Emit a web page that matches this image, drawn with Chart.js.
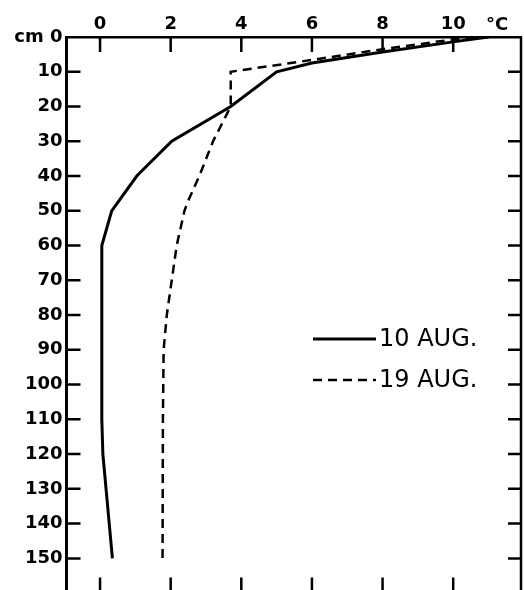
<!DOCTYPE html>
<html>
<head>
<meta charset="utf-8">
<title>Soil temperature profile</title>
<script src="https://cdn.jsdelivr.net/npm/chart.js@4.4.1/dist/chart.umd.min.js"></script>
<style>
  html, body { margin: 0; padding: 0; background: #fff; overflow: hidden; }
  canvas { display: block; }
</style>
</head>
<body>
<canvas id="profileChart" width="524" height="600"></canvas>
<script>
// Temperature (°C) against depth (cm) for the two dates
const depthsAug10 = [0, 1.4, 4.3, 7.5, 10, 20, 30, 40, 50, 60, 90, 110, 120, 130, 140, 150];
const tempsAug10  = [11.0, 10.0, 8.0, 6.0, 5.0, 3.7, 2.03, 1.04, 0.33, 0.05, 0.05, 0.05, 0.08, 0.17, 0.26, 0.35];

const depthsAug19 = [0, 0.7, 3.5, 6.6, 10, 20, 30, 40, 47, 50, 60, 70, 80, 90, 110, 150];
const tempsAug19  = [10.6, 10.0, 8.0, 6.0, 3.7, 3.7, 3.2, 2.81, 2.5, 2.39, 2.17, 2.03, 1.89, 1.8, 1.78, 1.77];

const seriesLabels = ['10 AUG.', '19 AUG.'];
const tempTicks = [0, 2, 4, 6, 8, 10];
const depthTicks = [0, 10, 20, 30, 40, 50, 60, 70, 80, 90, 100, 110, 120, 130, 140, 150];

const tickFont = { family: 'DejaVu Sans', size: 18, weight: 'bold' };

function toPoints(temps, depths) {
    return temps.map((t, i) => ({ x: t, y: depths[i] }));
}

// Frame, inward tick marks, unit label and the in-plot key
const framePlugin = {
    id: 'framePlugin',
    afterDatasetsDraw(chart) {
        const ctx = chart.ctx;
        const area = chart.chartArea;
        const xs = chart.scales.x;
        const ys = chart.scales.y;
        ctx.save();
        ctx.strokeStyle = '#000';
        ctx.lineCap = 'butt';

        // right and bottom sides of the box
        ctx.lineWidth = 2.5;
        ctx.beginPath();
        ctx.moveTo(area.right, area.top);
        ctx.lineTo(area.right, area.bottom);
        ctx.lineTo(area.left, area.bottom);
        ctx.stroke();

        // depth ticks pointing inward on both sides
        depthTicks.slice(1).forEach(d => {
            const py = ys.getPixelForValue(d);
            ctx.beginPath();
            ctx.moveTo(area.left, py);
            ctx.lineTo(area.left + 14, py);
            ctx.moveTo(area.right, py);
            ctx.lineTo(area.right - 13, py);
            ctx.stroke();
        });

        // temperature ticks pointing inward at top and bottom
        tempTicks.forEach(t => {
            const px = xs.getPixelForValue(t);
            ctx.beginPath();
            ctx.moveTo(px, area.top);
            ctx.lineTo(px, area.top + 15);
            ctx.moveTo(px, area.bottom);
            ctx.lineTo(px, area.bottom - 14);
            ctx.stroke();
        });

        // unit after the last temperature label
        ctx.fillStyle = '#000';
        ctx.font = 'bold 18px "DejaVu Sans"';
        ctx.textAlign = 'center';
        ctx.textBaseline = 'alphabetic';
        ctx.fillText('°C', 497, 30);

        // key
        const keyRows = [339, 380];
        chart.data.datasets.forEach((ds, i) => {
            const y = keyRows[i];
            ctx.lineWidth = ds.borderWidth;
            ctx.setLineDash(ds.borderDash || []);
            ctx.beginPath();
            ctx.moveTo(313, y);
            ctx.lineTo(376, y);
            ctx.stroke();
            ctx.setLineDash([]);
            ctx.font = '24px "DejaVu Sans"';
            ctx.textAlign = 'left';
            ctx.textBaseline = 'middle';
            ctx.fillText(ds.label, 379, y + 1);
        });
        ctx.restore();
    }
};

new Chart(document.getElementById('profileChart'), {
    type: 'line',
    data: {
        datasets: [{
            label: seriesLabels[0],
            data: toPoints(tempsAug10, depthsAug10),
            borderColor: '#000',
            borderWidth: 3,
            pointRadius: 0,
            tension: 0
        }, {
            label: seriesLabels[1],
            data: toPoints(tempsAug19, depthsAug19),
            borderColor: '#000',
            borderWidth: 2.5,
            borderDash: [9, 6],
            pointRadius: 0,
            tension: 0
        }]
    },
    options: {
        responsive: false,
        animation: false,
        devicePixelRatio: 1,
        layout: { padding: { left: 0, top: 0, right: 3, bottom: 8.6 } },
        plugins: {
            legend: { display: false },
            tooltip: { enabled: false }
        },
        scales: {
            x: {
                type: 'linear',
                position: 'top',
                min: -0.95,
                max: 11.92,
                afterBuildTicks: scale => { scale.ticks = tempTicks.map(v => ({ value: v })); },
                afterFit: scale => {
                    scale.height = 37;
                    scale.paddingLeft = 0;
                    scale.paddingRight = 0;
                },
                grid: { display: false, drawTicks: false },
                border: { display: true, color: '#000', width: 2.5 },
                ticks: { color: '#000', font: tickFont, padding: 2, maxRotation: 0 }
            },
            y: {
                type: 'linear',
                reverse: true,
                min: 0,
                max: 159.5,
                afterBuildTicks: scale => { scale.ticks = depthTicks.map(v => ({ value: v })); },
                afterFit: scale => {
                    scale.width = 66.5;
                    scale.paddingTop = 0;
                    scale.paddingBottom = 0;
                },
                grid: { display: false, drawTicks: false },
                border: { display: true, color: '#000', width: 3 },
                ticks: {
                    color: '#000',
                    font: tickFont,
                    padding: 4,
                    callback: v => (v === 0 ? 'cm 0' : String(v))
                }
            }
        }
    },
    plugins: [framePlugin]
});
</script>
</body>
</html>
